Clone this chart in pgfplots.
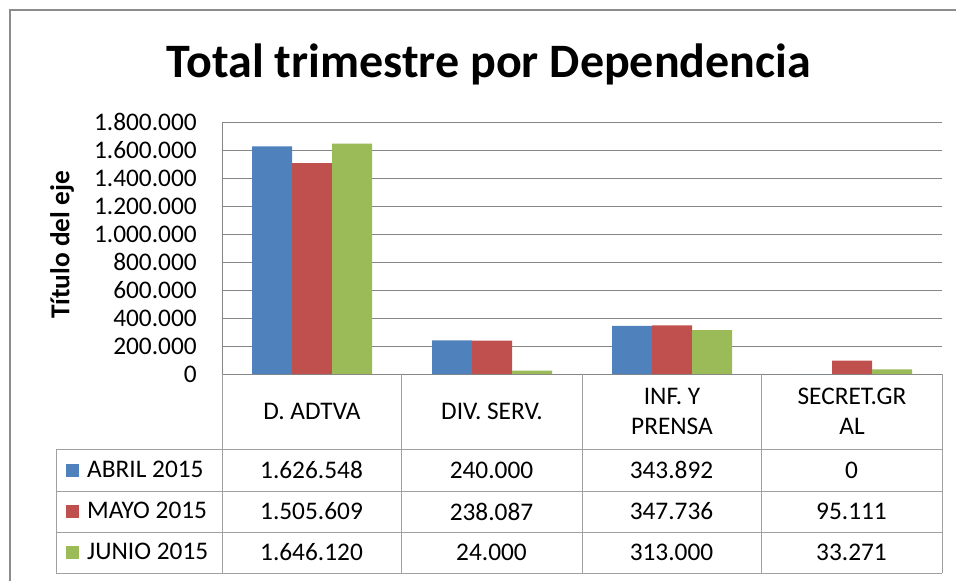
\documentclass[border=0pt]{standalone}
\usepackage{fontspec}
\setmainfont{Carlito}
\usepackage{pgfplots}
\pgfplotsset{compat=1.18}
\usepackage{pgfplotstable}
\definecolor{cBlue}{HTML}{4F81BD}
\definecolor{cRed}{HTML}{C0504D}
\definecolor{cGreen}{HTML}{9BBB59}
\definecolor{cGrid}{HTML}{868686}
\definecolor{cLine}{HTML}{A0A0A0}
\definecolor{cFrame}{HTML}{8C8C8C}

\pgfplotstableread{
x abril mayo junio
0 1626548 1505609 1646120
1 240000 238087 24000
2 343892 347736 313000
3 0 95111 33271
}\datatable

\begin{document}
\begin{tikzpicture}
\begin{scope}[x=0.75pt,y=-0.75pt]
  \path[use as bounding box, fill=white] (0,0) rectangle (956,581);
  \draw[cFrame, line width=1.5pt] (10,590) -- (10,10) -- (970,10);
  \node[font=\bfseries\fontsize{36}{40}\selectfont, anchor=base] at (489,78) {Total trimestre por Dependencia};
  \node[font=\bfseries\fontsize{20.5}{23}\selectfont, rotate=90] at (62,245) {Título del eje};
\end{scope}

\begin{axis}[
  at={(166.5pt,-280.5pt)}, anchor=south west,
  width=540pt, height=189pt, scale only axis,
  xmin=-0.5, xmax=3.5, ymin=0, ymax=1800000,
  ytick distance=200000,
  scaled y ticks=false,
  axis x line*=bottom, axis y line*=left,
  axis line style={cGrid, line width=0.75pt, -},
  ymajorgrids, grid style={cGrid, line width=0.75pt},
  major tick length=0pt,
  tick style={draw=none},
  font=\fontsize{19}{22.5}\selectfont,
  yticklabel style={anchor=east, inner sep=0pt, xshift=-18.75pt,
    /pgf/number format/.cd, fixed, precision=0, 1000 sep={.}, assume math mode=true},
  xtick={0,1,2,3},
  xticklabels={D. ADTVA, DIV. SERV., {INF. Y\\PRENSA}, {SECRET.GR\\AL}},
  xticklabel style={anchor=center, align=center, inner sep=0pt, yshift=-27.75pt},
  ybar=0pt, bar width=30pt,
  legend image code/.code={\fill[#1,draw=none] (0pt,-4.875pt) rectangle (9.75pt,4.875pt);},
  legend style={at={(-0.2167,-0.3)}, anchor=north west, draw=none, fill=none,
    inner sep=0pt, row sep=0pt, column sep=6pt,
    nodes={inner sep=0pt, minimum height=30.75pt, anchor=west},
    font=\fontsize{19}{22.5}\selectfont},
  legend cell align=left,
]
\addplot[fill=cBlue, draw=none] table[x=x, y=abril] {\datatable};
\addplot[fill=cRed, draw=none] table[x=x, y=mayo] {\datatable};
\addplot[fill=cGreen, draw=none] table[x=x, y=junio] {\datatable};
\legend{ABRIL 2015, MAYO 2015, JUNIO 2015}
\end{axis}

\begin{scope}[x=0.75pt,y=-0.75pt]
  \draw[cLine, line width=0.75pt] (56,449) -- (942,449);
  \draw[cLine, line width=0.75pt] (56,491) -- (942,491);
  \draw[cLine, line width=0.75pt] (56,532) -- (942,532);
  \draw[cLine, line width=0.75pt] (56,573) -- (942,573);
  \draw[cLine, line width=0.75pt] (56,449) -- (56,573);
  \foreach \xx in {222,401,582,761,942} {
    \draw[cLine, line width=0.75pt] (\xx,374) -- (\xx,573);
  }
  \foreach \c/\yy in {abril/470, mayo/511.5, junio/552.5} {
    \foreach \r/\xx in {0/311.5, 1/491.5, 2/671.5, 3/851.5} {
      \pgfplotstablegetelem{\r}{\c}\of\datatable
      \node[font=\fontsize{19}{22.5}\selectfont, inner sep=0pt] at (\xx,\yy)
        {\pgfmathprintnumber[fixed,precision=0,1000 sep={.},assume math mode=true]{\pgfplotsretval}};
    }
  }
\end{scope}
\end{tikzpicture}
\end{document}
